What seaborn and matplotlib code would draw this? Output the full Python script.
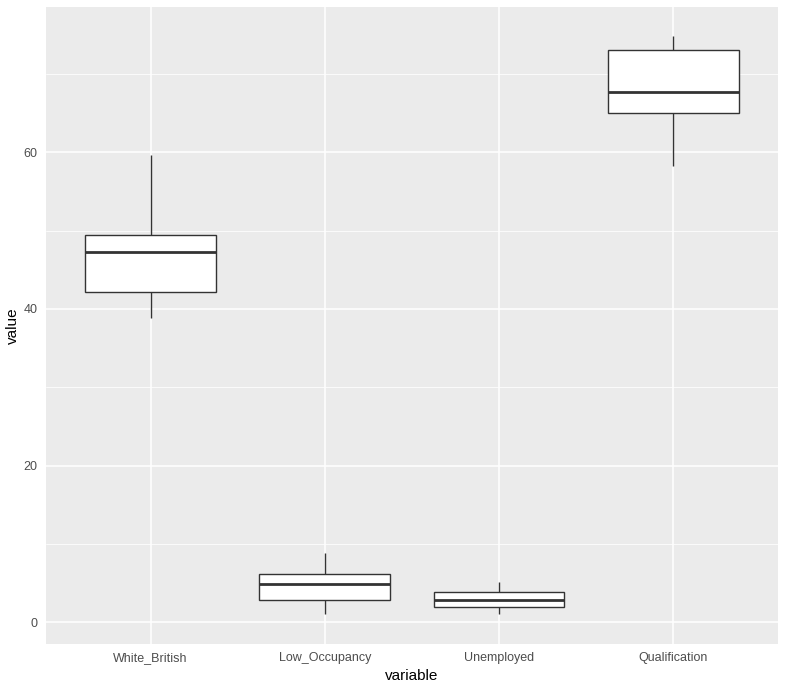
import pandas as pd
import numpy as np
import matplotlib
matplotlib.use('Agg')
import matplotlib.pyplot as plt
import seaborn as sns
from matplotlib.ticker import MultipleLocator

# five-number summaries (min, q1, median, q3, max)
categories = ['White_British', 'Low_Occupancy', 'Unemployed', 'Qualification']
white_british = [38.9, 42.2, 47.3, 49.4, 59.7]
low_occupancy = [1.1, 2.9, 4.9, 6.2, 8.9]
unemployed = [1.1, 2.0, 2.8, 3.9, 5.1]
qualification = [58.3, 65.0, 67.7, 73.1, 74.8]

df = pd.DataFrame({
    'variable': np.repeat(categories, 5),
    'value': white_british + low_occupancy + unemployed + qualification,
})

sns.set_style('darkgrid', {'axes.facecolor': '#EBEBEB', 'grid.color': 'white'})
plt.rcParams['font.family'] = ['Liberation Sans', 'DejaVu Sans']

fig, ax = plt.subplots(figsize=(7.86, 6.89), dpi=100)
line = dict(color='#333333', linewidth=1.0)
sns.boxplot(data=df, x='variable', y='value', order=categories, width=0.75,
            color='white', whis=1.5, ax=ax,
            boxprops=dict(facecolor='white', edgecolor='#333333', linewidth=1.0),
            whiskerprops=line, capprops=dict(linewidth=0),
            medianprops=dict(color='#333333', linewidth=2.0),
            showfliers=False)

ax.set_xlim(-0.6, 3.6)
ax.set_ylim(-2.77, 78.55)
ax.yaxis.set_major_locator(MultipleLocator(20))
ax.yaxis.set_minor_locator(MultipleLocator(10))
ax.grid(True, which='major', color='white', linewidth=1.1)
ax.grid(True, which='minor', axis='y', color='white', linewidth=0.55)
ax.set_axisbelow(True)
for s in ax.spines.values():
    s.set_visible(False)
ax.tick_params(axis='both', which='major', length=3, width=0.8, color='#333333',
               labelcolor='#4D4D4D', labelsize=9, pad=3)
ax.tick_params(axis='y', which='minor', length=0)
ax.set_xlabel('variable', fontsize=11, color='black', labelpad=3)
ax.set_ylabel('value', fontsize=11, color='black', labelpad=3)

plt.subplots_adjust(left=0.0585, right=0.9898, top=0.9898, bottom=0.0653)
fig.savefig('out.png', dpi=100)
